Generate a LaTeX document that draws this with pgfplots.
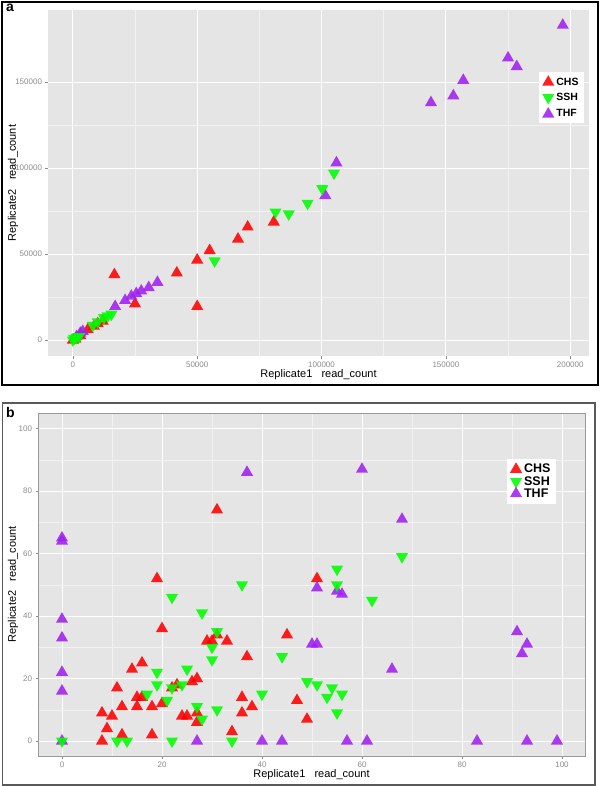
\documentclass[border=0pt]{standalone}
\usepackage{pgfplots}
\pgfplotsset{compat=1.18}
\usepackage{fontspec}
\setmainfont{Liberation Sans}

\definecolor{chs}{HTML}{FF0000}
\definecolor{ssh}{HTML}{00FF00}
\definecolor{thf}{HTML}{A020F0}
\definecolor{panelbg}{HTML}{E5E5E5}
\definecolor{minorgrid}{HTML}{F2F2F2}

% ggplot-like look shared by both panels
\pgfplotsset{
  ggbase/.style={
    scale only axis,
    axis background/.style={fill=panelbg},
    grid=both,
    major grid style={white, line width=0.9pt},
    minor grid style={minorgrid, line width=0.5pt},
    minor tick num=1,
    minor tick length=0pt,
    major tick length=2.5pt,
    tick align=outside,
    tick pos=left,
    tick style={black!45, line width=0.6pt},
    ticklabel style={font=\fontsize{8}{9}\selectfont, text=black!45},
    /pgf/number format/assume math mode=true,
    /pgf/number format/fixed,
    /pgf/number format/1000 sep={},
    scaled ticks=false,
    label style={font=\fontsize{11}{12}\selectfont},
    only marks,
    mark size=7pt,
    legend cell align=left,
  },
  up/.style={mark=triangle*, color=#1, mark options={fill opacity=0.88, draw opacity=0}},
  down/.style={mark=triangle*, color=#1, mark options={rotate=180, fill opacity=0.88, draw opacity=0}},
}

\begin{document}
\begin{tikzpicture}
\fill[white] (0pt,0pt) rectangle (600pt,-786pt);

% ---------- panel a ----------
\begin{axis}[ggbase,
  at={(48pt,-356pt)}, anchor=south west,
  width=541pt, height=346pt,
  xmin=-10000, xmax=207560, ymin=-9300, ymax=191860,
  xtick={0,50000,100000,150000,200000},
  ytick={0,50000,100000,150000},
  axis line style={draw=none},
  xlabel={Replicate1\ \ \ read\_count},
  ylabel={Replicate2\ \ \ read\_count},
  xlabel style={at={(axis description cs:0.5,-0.053)}, anchor=center},
  ylabel style={at={(axis description cs:-0.0647,0.5)}, anchor=center},
  legend style={at={(rel axis cs:0.9076,0.8208)}, anchor=north west,
    draw=none, fill=white, font=\bfseries\fontsize{10.5}{10.5}\selectfont,
    inner sep=3pt, row sep=2.5pt},
]
\addlegendimage{only marks, up=chs}\addlegendentry{CHS}
\addlegendimage{only marks, down=ssh}\addlegendentry{SSH}
\addlegendimage{only marks, up=thf}\addlegendentry{THF}

\addplot[forget plot, up=chs] coordinates {
 (0,0) (1000,500) (3000,2500) (6000,6000) (8500,8000) (10000,9500)
 (12000,11000) (16700,38000) (25000,21000) (41800,39000) (50000,46500)
 (50000,19500) (55000,52000) (66400,58700) (70300,65700) (80800,68600)};
\addplot[forget plot, up=thf] coordinates {
 (1500,2000) (3000,4000) (4000,5000) (17000,19500) (21000,23000)
 (23500,25500) (25500,27000) (27500,28500) (30500,30500) (34000,33500)
 (101500,84000) (106000,103000) (144000,138000) (153000,142000)
 (157000,151000) (175000,164000) (178500,159000) (197000,183000)};
\addplot[forget plot, down=ssh] coordinates {
 (0,0) (500,1000) (1500,1500) (2500,2000) (8000,8500) (10000,10500)
 (12500,13000) (14000,14000) (15500,15000) (57000,46000) (81500,74400)
 (86800,73300) (94400,79500) (100300,88000) (105000,97000)};
\end{axis}

% ---------- panel b ----------
\begin{axis}[ggbase,
  at={(38pt,-756pt)}, anchor=south west,
  width=547pt, height=343pt,
  xmin=-4.8, xmax=104.6, ymin=-4.8, ymax=105,
  xtick={0,20,...,100}, ytick={0,20,...,100},
  axis line style={black!40, line width=0.8pt},
  xlabel={Replicate1\ \ \ read\_count},
  ylabel={Replicate2\ \ \ read\_count},
  xlabel style={at={(axis description cs:0.5,-0.0545)}, anchor=center},
  ylabel style={at={(axis description cs:-0.0457,0.5)}, anchor=center},
  legend style={at={(rel axis cs:0.857,0.866)}, anchor=north west,
    draw=none, fill=white, font=\bfseries\fontsize{12.5}{12.5}\selectfont,
    inner sep=3pt, row sep=-2pt},
]
\addlegendimage{only marks, up=chs}\addlegendentry{CHS}
\addlegendimage{only marks, down=ssh}\addlegendentry{SSH}
\addlegendimage{only marks, up=thf}\addlegendentry{THF}

\addplot[forget plot, up=chs] coordinates {
 (8,0) (8,9) (9,4) (10,8) (11,17) (12,11) (12,2) (14,23) (15,14) (15,11)
 (16,14) (16,25) (18,11) (18,2) (19,52) (20,36) (20,12) (22,17) (23,18)
 (24,8) (25,8) (26,19) (27,20) (27,9) (27,6) (29,32) (30,32) (31,34)
 (31,74) (33,32) (34,3) (36,14) (36,9) (37,27) (38,11) (45,34) (47,13)
 (49,7) (51,52)};
\addplot[forget plot, up=thf] coordinates {
 (0,0) (0,16) (0,22) (0,33) (0,39) (0,64) (0,65) (27,0) (37,86) (40,0)
 (44,0) (50,31) (51,31) (51,49) (55,48) (56,47) (57,0) (60,87) (61,0)
 (66,23) (68,71) (83,0) (91,35) (92,28) (93,31) (93,0) (99,0)};
\addplot[forget plot, down=ssh] coordinates {
 (0,0) (11,0) (13,0) (17,15) (19,22) (19,18) (21,13) (22,46) (22,17)
 (22,0) (24,18) (25,23) (27,11) (28,7) (28,41) (30,30) (30,26) (31,35)
 (31,10) (34,0) (36,50) (40,15) (44,27) (49,19) (51,18) (53,14) (54,17)
 (55,55) (55,50) (55,9) (56,15) (62,45) (68,59)};
\end{axis}

% panel frames and letters
\draw[black, line width=2pt] (2pt,-2pt) rectangle (597.5pt,-385pt);
\draw[black!65, line width=1.2pt] (2.5pt,-403pt) rectangle (595pt,-785pt);
\node[anchor=north west, inner sep=0pt, font=\bfseries\fontsize{14}{14}\selectfont] at (6pt,-4pt) {a};
\node[anchor=north west, inner sep=0pt, font=\bfseries\fontsize{14}{14}\selectfont] at (6pt,-407pt) {b};
\end{tikzpicture}
\end{document}
